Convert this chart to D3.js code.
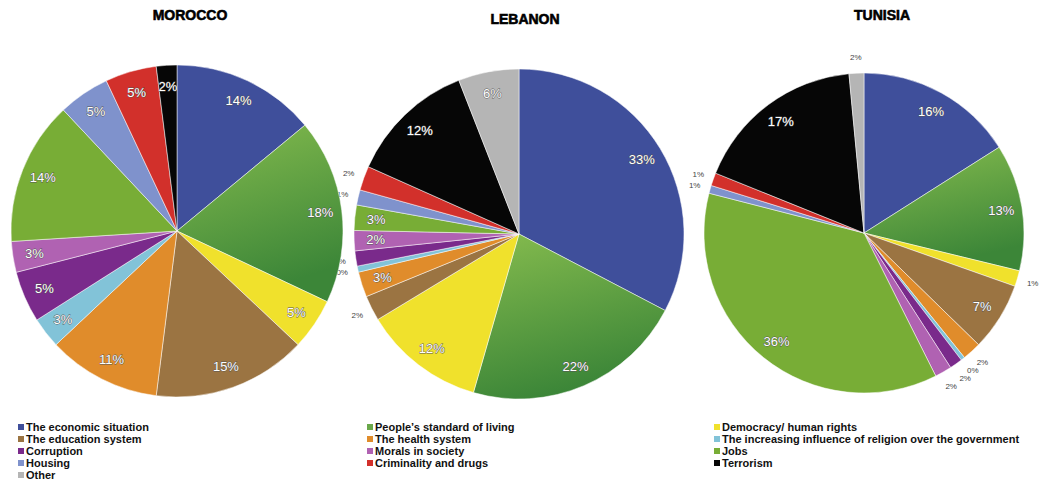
<!DOCTYPE html>
<html>
<head>
<meta charset="utf-8">
<script src="https://cdn.jsdelivr.net/npm/d3@7"></script>
<style>
  body { margin: 0; background: #fff; }
  svg { display: block; }
  .title { font-family: "Liberation Sans", Arial, sans-serif; font-weight: bold; font-size: 14px; fill: #000; stroke: #000; stroke-width: 0.6px; }
  .lbl { font-family: "Liberation Sans", Arial, sans-serif; font-size: 13px; fill: #fff; stroke: #555; stroke-width: 0.8px; paint-order: stroke; }
  .lbl-out { font-family: "Liberation Sans", Arial, sans-serif; font-size: 8px; fill: #444; }
  .legend text { font-family: "Liberation Sans", Arial, sans-serif; font-weight: bold; font-size: 11px; fill: #111; }
</style>
</head>
<body>
<div id="chart"></div>
<script>
// categories in legend order (row by row)
const categories = [
  "The economic situation", "People\u2019s standard of living", "Democracy/ human rights",
  "The education system", "The health system", "The increasing influence of religion over the government",
  "Corruption", "Morals in society", "Jobs",
  "Housing", "Criminality and drugs", "Terrorism",
  "Other"
];
const colors = [
  "#3f4f9b", "url(#greenGrad)", "#f0e12c",
  "#9b7442", "#e08c2b", "#82c3d8",
  "#7a2a8b", "#b062b2", "#78ad36",
  "#7f92cc", "#d2302b", "#060606",
  "#b5b5b5"
];
const swatchColors = colors.map(c => c.startsWith("url") ? "#6aa84a" : c);

const countries = ["MOROCCO", "LEBANON", "TUNISIA"];

const moroccoValues = [14, 18, 5, 15, 11, 3, 5, 3, 14, 5, 5, 2, 0];
const moroccoLabels = [14, 18, 5, 15, 11, 3, 5, 3, 14, 5, 5, 2, 0];
const lebanonValues = [33, 22, 12, 2.5, 2.5, 0.6, 1.5, 2, 2.5, 1.5, 2.4, 12.5, 6];
const lebanonLabels = [33, 22, 12, 2, 3, 0, 1, 2, 3, 1, 2, 12, 6];
const tunisiaValues = [16, 12.8, 1.6, 6.9, 1.9, 0.4, 1.3, 1.7, 36.4, 0.8, 1.3, 17.4, 1.5];
const tunisiaLabels = [16, 13, 1, 7, 2, 0, 2, 2, 36, 1, 1, 17, 2];

// which slices put their label outside the pie
const moroccoOutside = [];
const lebanonOutside = [3, 5, 6, 9, 10];
const tunisiaOutside = [2, 4, 5, 6, 7, 9, 10, 12];

const width = 1047, height = 481;

const svg = d3.select("#chart").append("svg")
  .attr("width", width)
  .attr("height", height);

const grad = svg.append("defs").append("linearGradient")
  .attr("id", "greenGrad")
  .attr("x1", 0).attr("y1", 0).attr("x2", 0.3).attr("y2", 1);
grad.append("stop").attr("offset", "0%").attr("stop-color", "#86bc4e");
grad.append("stop").attr("offset", "100%").attr("stop-color", "#3c8638");

const charts = [
  { name: countries[1], values: lebanonValues, labels: lebanonLabels, outside: lebanonOutside, cx: 519, cy: 234, r: 165, tx: 525, ty: 24 },
  { name: countries[2], values: tunisiaValues, labels: tunisiaLabels, outside: tunisiaOutside, cx: 864, cy: 233, r: 160, tx: 882, ty: 20 },
  { name: countries[0], values: moroccoValues, labels: moroccoLabels, outside: moroccoOutside, cx: 177, cy: 231, r: 166, tx: 190, ty: 20 }
];

const pie = d3.pie().sort(null).value(d => d.value);

// nudge small outside labels apart vertically so they don't sit on each other
function spread(points, gap) {
  for (let k = 0; k < 30; k++) {
    let moved = false;
    for (let a = 0; a < points.length; a++) {
      for (let b = a + 1; b < points.length; b++) {
        const p = points[a], q = points[b];
        if (Math.abs(p.x - q.x) < 12 && Math.abs(p.y - q.y) < gap) {
          const push = (gap - Math.abs(p.y - q.y)) / 2 + 0.1;
          if (p.y <= q.y) { p.y -= push; q.y += push; } else { p.y += push; q.y -= push; }
          moved = true;
        }
      }
    }
    if (!moved) break;
  }
}

charts.forEach(c => {
  const data = categories.map((cat, i) => ({ cat, i, value: c.values[i], label: c.labels[i] }));
  const arcs = pie(data).filter(a => a.data.value > 0);
  const arc = d3.arc().innerRadius(0).outerRadius(c.r);
  const inLabel = d3.arc().innerRadius(c.r * 0.87).outerRadius(c.r * 0.87);
  const outLabel = d3.arc().innerRadius(c.r + 16).outerRadius(c.r + 16);

  const g = svg.append("g").attr("transform", `translate(${c.cx},${c.cy})`);

  g.selectAll("path")
    .data(arcs)
    .enter().append("path")
    .attr("d", arc)
    .attr("fill", d => colors[d.data.i])
    .attr("stroke", "#fff")
    .attr("stroke-width", 0.5);

  g.selectAll("text.lbl")
    .data(arcs.filter(d => !c.outside.includes(d.data.i)))
    .enter().append("text")
    .attr("class", "lbl")
    .attr("transform", d => `translate(${inLabel.centroid(d)})`)
    .attr("text-anchor", "middle")
    .attr("dy", "0.35em")
    .text(d => d.data.label + "%");

  const outs = arcs.filter(d => c.outside.includes(d.data.i)).map(d => {
    const [x, y] = outLabel.centroid(d);
    return { x, y, text: d.data.label + "%" };
  });
  spread(outs, 8);

  g.selectAll("text.lbl-out")
    .data(outs)
    .enter().append("text")
    .attr("class", "lbl-out")
    .attr("x", d => d.x)
    .attr("y", d => d.y)
    .attr("text-anchor", "middle")
    .attr("dy", "0.35em")
    .text(d => d.text);

  svg.append("text")
    .attr("class", "title")
    .attr("x", c.tx)
    .attr("y", c.ty)
    .attr("text-anchor", "middle")
    .text(c.name);
});

// legend: three columns, filled row by row
const legendCols = [18, 367, 714];
const legend = svg.append("g").attr("class", "legend");
const item = legend.selectAll("g")
  .data(categories)
  .enter().append("g")
  .attr("transform", (d, i) => `translate(${legendCols[i % 3]},${428 + Math.floor(i / 3) * 12})`);

item.append("rect")
  .attr("x", 0).attr("y", -4)
  .attr("width", 6).attr("height", 6)
  .attr("fill", (d, i) => swatchColors[i]);

item.append("text")
  .attr("x", 8)
  .attr("dy", "0.3em")
  .text(d => d);
</script>
</body>
</html>
